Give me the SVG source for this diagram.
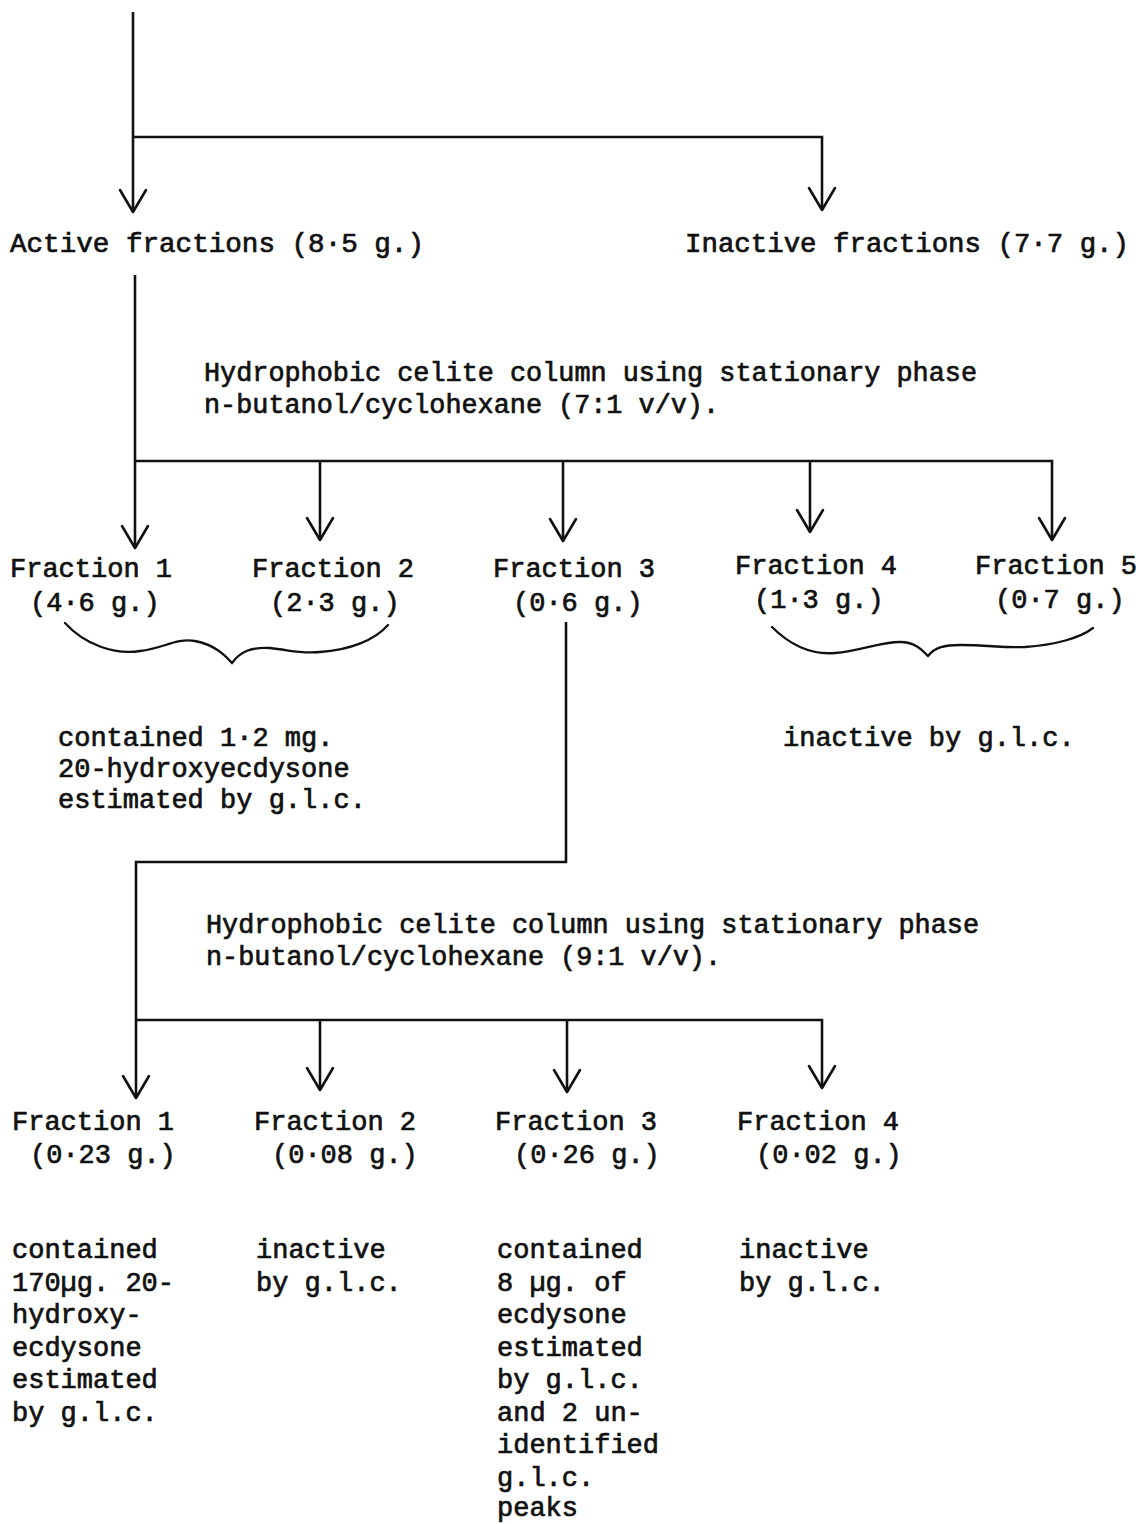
<svg xmlns="http://www.w3.org/2000/svg" width="1139" height="1524" viewBox="0 0 1139 1524">
<style>
text{font-family:"Liberation Mono","Courier New",monospace;font-size:27px;fill:#111;stroke:#111;stroke-width:0.7}
.ln{fill:none;stroke:#111;stroke-width:2.6;stroke-linecap:butt}
.br{fill:none;stroke:#111;stroke-width:2.3;stroke-linecap:round}
</style>
<defs>
<marker id="ah" markerUnits="userSpaceOnUse" markerWidth="30" markerHeight="30" viewBox="-25 -15 30 30" refX="0" refY="0" orient="auto" overflow="visible">
<path d="M-22,-13 L0,0 L-22,13" fill="none" stroke="#111" stroke-width="2.6" stroke-linejoin="round" stroke-linecap="round"/>
</marker>
</defs>
<rect width="1139" height="1524" fill="#fff"/>
<g id="connectors">
<path class="ln" d="M133,12 L133,212" marker-end="url(#ah)"/>
<path class="ln" d="M133,137 L822,137 L822,210" marker-end="url(#ah)"/>
<path class="ln" d="M135,275 L135,548" marker-end="url(#ah)"/>
<path class="ln" d="M135,461 L1052,461 L1052,540" marker-end="url(#ah)"/>
<path class="ln" d="M320,461 L320,540" marker-end="url(#ah)"/>
<path class="ln" d="M563,461 L563,541" marker-end="url(#ah)"/>
<path class="ln" d="M810,461 L810,532" marker-end="url(#ah)"/>
<path class="ln" d="M566,622 L566,862 L136,862 L136,1098" marker-end="url(#ah)"/>
<path class="ln" d="M136,1020 L822,1020 L822,1088" marker-end="url(#ah)"/>
<path class="ln" d="M320,1020 L320,1090" marker-end="url(#ah)"/>
<path class="ln" d="M567,1020 L567,1092" marker-end="url(#ah)"/>
<path class="br" d="M65,623 C85,645 115,655 140,651 C165,648 175,638 195,641 C215,645 225,655 232,663 C240,652 250,647 270,648 C290,650 300,654 320,652 C350,650 375,640 388,625"/>
<path class="br" d="M772,627 C790,645 810,655 835,653 C860,651 880,642 900,642 C915,642 922,650 928,656 C935,647 945,645 960,645 C990,645 1000,648 1025,647 C1055,645 1080,638 1093,628"/>
</g>
<g id="active"><text x="10" y="252" textLength="414" lengthAdjust="spacingAndGlyphs">Active fractions (8·5 g.)</text></g>
<g id="inactive"><text x="685" y="252" textLength="444" lengthAdjust="spacingAndGlyphs">Inactive fractions (7·7 g.)</text></g>
<g id="step1">
<text x="204" y="381" textLength="773" lengthAdjust="spacingAndGlyphs">Hydrophobic celite column using stationary phase</text>
<text x="204" y="413" textLength="515" lengthAdjust="spacingAndGlyphs">n-butanol/cyclohexane (7:1 v/v).</text>
</g>
<g id="a-f1"><text x="10" y="577">Fraction 1</text><text x="30" y="611">(4·6 g.)</text></g>
<g id="a-f2"><text x="252" y="577">Fraction 2</text><text x="270" y="611">(2·3 g.)</text></g>
<g id="a-f3"><text x="493" y="577">Fraction 3</text><text x="513" y="611">(0·6 g.)</text></g>
<g id="a-f4"><text x="735" y="574">Fraction 4</text><text x="754" y="608">(1·3 g.)</text></g>
<g id="a-f5"><text x="975" y="574">Fraction 5</text><text x="995" y="608">(0·7 g.)</text></g>
<g id="note-12">
<text x="58" y="746">contained 1·2 mg.</text>
<text x="58" y="777">20-hydroxyecdysone</text>
<text x="58" y="808">estimated by g.l.c.</text>
</g>
<g id="note-45"><text x="783" y="746">inactive by g.l.c.</text></g>
<g id="step2">
<text x="206" y="933" textLength="773" lengthAdjust="spacingAndGlyphs">Hydrophobic celite column using stationary phase</text>
<text x="206" y="965" textLength="515" lengthAdjust="spacingAndGlyphs">n-butanol/cyclohexane (9:1 v/v).</text>
</g>
<g id="b-f1"><text x="12" y="1130">Fraction 1</text><text x="30" y="1163">(0·23 g.)</text></g>
<g id="b-f2"><text x="254" y="1130">Fraction 2</text><text x="272" y="1163">(0·08 g.)</text></g>
<g id="b-f3"><text x="495" y="1130">Fraction 3</text><text x="514" y="1163">(0·26 g.)</text></g>
<g id="b-f4"><text x="737" y="1130">Fraction 4</text><text x="756" y="1163">(0·02 g.)</text></g>
<g id="b-note1">
<text x="12" y="1258">contained</text>
<text x="12" y="1291">170µg. 20-</text>
<text x="12" y="1323">hydroxy-</text>
<text x="12" y="1356">ecdysone</text>
<text x="12" y="1388">estimated</text>
<text x="12" y="1421">by g.l.c.</text>
</g>
<g id="b-note2">
<text x="256" y="1258">inactive</text>
<text x="256" y="1291">by g.l.c.</text>
</g>
<g id="b-note3">
<text x="497" y="1258">contained</text>
<text x="497" y="1291">8 µg. of</text>
<text x="497" y="1323">ecdysone</text>
<text x="497" y="1356">estimated</text>
<text x="497" y="1388">by g.l.c.</text>
<text x="497" y="1421">and 2 un-</text>
<text x="497" y="1453">identified</text>
<text x="497" y="1486">g.l.c.</text>
<text x="497" y="1516">peaks</text>
</g>
<g id="b-note4">
<text x="739" y="1258">inactive</text>
<text x="739" y="1291">by g.l.c.</text>
</g>
</svg>
